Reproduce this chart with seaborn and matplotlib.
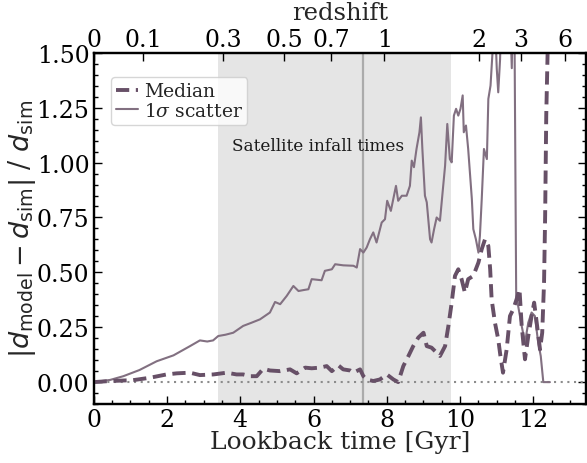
import numpy as np
import pandas as pd
import matplotlib
matplotlib.use("Agg")
import matplotlib.pyplot as plt
from matplotlib.ticker import AutoMinorLocator, MultipleLocator, FormatStrFormatter, NullLocator
from matplotlib.font_manager import FontProperties
import seaborn as sns

# 1-sigma scatter of the fractional distance error vs lookback time [Gyr]
scatter_t = [0.0, 0.45, 0.81, 1.25, 1.72, 2.18, 2.63, 2.9, 3.1, 3.26, 3.4, 3.6, 3.81,
             4.08, 4.3, 4.54, 4.81, 4.95, 5.09, 5.27, 5.45, 5.59, 5.75, 5.86, 5.95,
             6.22, 6.31, 6.5, 6.59, 6.81, 7.09, 7.18, 7.27, 7.36, 7.45, 7.54, 7.63,
             7.72, 7.86, 7.95, 8.01, 8.11, 8.25, 8.31, 8.41, 8.54, 8.63, 8.68, 8.74,
             8.81, 8.89, 8.93, 8.97, 9.04, 9.09, 9.18, 9.22, 9.29, 9.36, 9.45, 9.53,
             9.59, 9.65, 9.72, 9.77, 9.83, 9.89, 9.95, 10.01, 10.07, 10.1, 10.16,
             10.22, 10.32, 10.36, 10.43, 10.5, 10.54, 10.59, 10.65, 10.73, 10.77,
             10.83, 10.89, 10.95, 11.0, 11.04, 11.09, 11.14, 11.25, 11.36, 11.41,
             11.44, 11.48, 11.53, 11.58, 11.68, 11.77, 11.86, 11.95, 12.04, 12.13,
             12.2, 12.27, 12.45]
scatter_v = [0.0, 0.01, 0.027, 0.055, 0.095, 0.122, 0.164, 0.19, 0.185, 0.19, 0.21,
             0.216, 0.225, 0.256, 0.27, 0.286, 0.317, 0.365, 0.355, 0.393, 0.438,
             0.415, 0.42, 0.423, 0.469, 0.464, 0.507, 0.514, 0.537, 0.532, 0.53,
             0.522, 0.606, 0.59, 0.613, 0.651, 0.682, 0.636, 0.727, 0.742, 0.826,
             0.78, 0.894, 0.826, 0.849, 0.849, 0.894, 1.009, 0.979, 1.062, 1.138,
             1.206, 1.062, 0.849, 0.819, 0.651, 0.636, 0.697, 0.75, 0.735, 0.879,
             0.986, 1.176, 1.016, 1.001, 1.214, 1.245, 1.214, 1.245, 1.306, 1.138,
             1.169, 1.062, 0.834, 0.697, 0.651, 0.59, 0.666, 0.834, 1.062, 1.016,
             1.29, 1.351, 1.52, 1.65, 1.427, 1.32, 1.47, 1.8, 1.9, 1.7, 1.43, 1.75,
             1.7, 0.39, 0.35, 0.256, 0.18, 0.271, 0.317, 0.301, 0.18, 0.119, 0.0,
             0.0]

# Median of the fractional distance error vs lookback time [Gyr]
median_t = [0.0, 0.45, 1.08, 1.54, 1.99, 2.27, 2.63, 2.9, 3.27, 3.63, 3.9, 4.08,
            4.27, 4.45, 4.63, 4.81, 5.09, 5.36, 5.54, 5.77, 5.95, 6.18, 6.36, 6.5,
            6.68, 6.81, 7.0, 7.09, 7.27, 7.36, 7.45, 7.63, 7.81, 8.0, 8.18, 8.31,
            8.45, 8.59, 8.72, 8.86, 9.0, 9.09, 9.22, 9.36, 9.45, 9.59, 9.68, 9.77,
            9.86, 9.95, 10.04, 10.13, 10.22, 10.36, 10.5, 10.59, 10.68, 10.77,
            10.82, 10.86, 10.95, 11.04, 11.1, 11.17, 11.27, 11.36, 11.45, 11.54,
            11.62, 11.68, 11.77, 11.86, 11.95, 12.02, 12.09, 12.18, 12.24, 12.29,
            12.32, 12.35, 12.4]
median_v = [0.0, 0.005, 0.009, 0.02, 0.035, 0.04, 0.043, 0.032, 0.035, 0.043, 0.035,
            0.035, 0.027, 0.027, 0.061, 0.053, 0.05, 0.058, 0.04, 0.066, 0.063,
            0.066, 0.073, 0.05, 0.076, 0.058, 0.053, 0.043, 0.058, 0.027, 0.012,
            0.005, 0.012, 0.035, 0.012, 0.0, 0.073, 0.119, 0.164, 0.203, 0.225,
            0.164, 0.157, 0.134, 0.119, 0.164, 0.256, 0.362, 0.484, 0.514, 0.469,
            0.408, 0.469, 0.484, 0.545, 0.606, 0.651, 0.62, 0.514, 0.377, 0.271,
            0.195, 0.119, 0.043, 0.149, 0.301, 0.332, 0.377, 0.423, 0.256, 0.104,
            0.21, 0.301, 0.362, 0.271, 0.149, 0.225, 0.453, 0.758, 1.214, 1.6]

# Redshift labels for the top axis
z_ticks = [0, 0.1, 0.3, 0.5, 0.7, 1, 2, 3, 6]
z_labels = ["0", "0.1", "0.3", "0.5", "0.7", "1", "2", "3", "6"]

# Satellite infall window and marker [Gyr]
infall_span = (3.4, 9.75)
infall_mark = 7.35

H0, OM = 67.74, 0.3089


def lookback_gyr(z):
    zz = np.linspace(0.0, z, 4001)
    ez = np.sqrt(OM * (1 + zz) ** 3 + (1 - OM))
    return 977.8 / H0 * np.trapezoid(1.0 / ((1 + zz) * ez), zz)


sns.set_style("ticks")
plt.rcParams["font.family"] = ["DejaVu Serif"]
plt.rcParams["mathtext.fontset"] = "dejavuserif"
plt.rcParams["axes.edgecolor"] = "black"
plt.rcParams["xtick.color"] = "black"
plt.rcParams["ytick.color"] = "black"

col_med = "#675067"
col_sct = "#827081"

fig = plt.figure(figsize=(5.87, 4.64), dpi=100)
ax = fig.add_axes([0.1595, 0.127, 0.8385, 0.757])

ax.axvspan(*infall_span, color="#e5e5e5", lw=0, zorder=0)
ax.axvline(infall_mark, color="#ababab", lw=1.6, zorder=1)
ax.axhline(0, color="#8c8c8c", lw=1.5, ls=(0, (1, 2.2)), zorder=1)

df_med = pd.DataFrame({"t": median_t, "v": median_v})
df_sct = pd.DataFrame({"t": scatter_t, "v": scatter_v})
sns.lineplot(data=df_med, x="t", y="v", ax=ax, color=col_med, lw=2.8,
             ls=(0, (3.4, 1.7)), estimator=None, sort=False, label="Median", zorder=3)
sns.lineplot(data=df_sct, x="t", y="v", ax=ax, color=col_sct, lw=1.5,
             estimator=None, sort=False, label=r"1$\sigma$ scatter", zorder=2)

ax.text(6.12, 1.077, "Satellite infall times", ha="center", va="center",
        fontsize=12.2, color="#1a1a1a")

xmax = 13.43
ax.set_xlim(0, xmax)
ax.set_ylim(-0.1, 1.5)
ax.xaxis.set_major_locator(MultipleLocator(2))
ax.xaxis.set_minor_locator(AutoMinorLocator(4))
ax.set_yticks([0, 0.25, 0.5, 0.75, 1.0, 1.25, 1.5])
ax.yaxis.set_minor_locator(AutoMinorLocator(5))
ax.tick_params(which="both", direction="in", right=True, top=False,
               labelsize=17, width=1.0, pad=3)
ax.tick_params(which="major", length=6)
ax.tick_params(which="minor", length=3)
ax.yaxis.set_major_formatter(FormatStrFormatter("%.2f"))
for s in ax.spines.values():
    s.set_linewidth(1.6)

ax.set_xlabel("Lookback time [Gyr]", fontsize=18, labelpad=-1)
ax.set_ylabel(r"$|d_{\rm model} - d_{\rm sim}|$ / $d_{\rm sim}$", fontsize=19.5,
              math_fontfamily="dejavusans", labelpad=-1)

ax2 = ax.twiny()
ax2.set_xlim(0, xmax)
ax2.set_xticks([lookback_gyr(z) for z in z_ticks])
ax2.set_xticklabels(z_labels)
ax2.xaxis.set_minor_locator(NullLocator())
ax2.tick_params(direction="in", length=6, width=1.0, labelsize=17, pad=1)
ax2.set_xlabel("redshift", fontsize=17.5, labelpad=6.5)
for s in ax2.spines.values():
    s.set_linewidth(1.6)

leg = ax.legend(loc="upper left", bbox_to_anchor=(0.035, 0.93),
                handlelength=1.2, handletextpad=0.3, borderpad=0.25,
                labelspacing=0.1, borderaxespad=0.0, frameon=True,
                prop=FontProperties(family="DejaVu Serif", size=13.5,
                                    math_fontfamily="dejavuserif"))
leg.get_frame().set_edgecolor("#cccccc")

fig.savefig("out.png", dpi=100)
